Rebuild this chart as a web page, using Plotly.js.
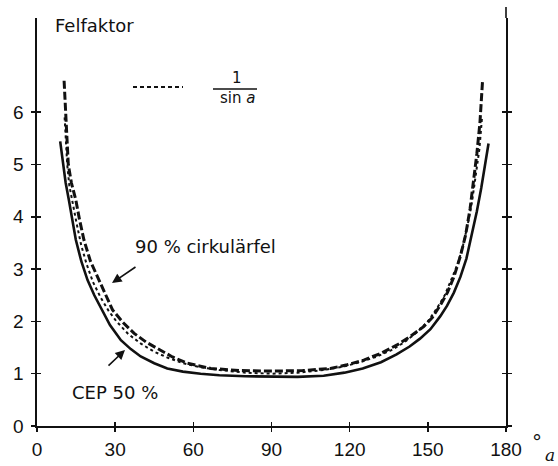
<!DOCTYPE html>
<html>
<head>
<meta charset="utf-8">
<script src="https://cdn.plot.ly/plotly-3.0.1.min.js"></script>
<style>html,body{margin:0;padding:0;background:#fff;}#chart{width:558px;height:466px;}</style>
</head>
<body>
<div id="chart"></div>
<script>
// ---- data ----
const xTicks = [0, 30, 60, 90, 120, 150, 180];
const yTicks = [0, 1, 2, 3, 4, 5, 6];

// CEP 50 % (solid)
const cepAngle = [8.9, 10, 11, 12.3, 13.5, 14.9, 17, 19.4, 22, 24.5, 28, 32.2, 36, 39.8, 45, 50, 56, 62.8, 70, 80, 90, 100, 110, 118, 125, 132, 138, 143, 147, 151, 154.8, 157.4, 160, 162.5, 164.8, 166.9, 168.8, 170.5, 172, 173.3];
const cepValue = [5.44, 5.0, 4.65, 4.3, 3.95, 3.56, 3.15, 2.79, 2.5, 2.25, 1.93, 1.64, 1.47, 1.33, 1.2, 1.10, 1.04, 1.0, 0.97, 0.95, 0.94, 0.94, 0.96, 1.02, 1.10, 1.22, 1.37, 1.52, 1.67, 1.85, 2.1, 2.3, 2.55, 2.85, 3.2, 3.65, 4.1, 4.55, 5.0, 5.4];

// 90 % cirkulärfel (dashed)
const circAngle = [10.4, 10.9, 11.4, 12, 13.2, 14.9, 16.3, 18, 20.5, 23.8, 26.5, 29, 33, 37.3, 42, 47.5, 52, 57.7, 66.7, 78, 90, 102, 112.6, 119, 125.4, 132, 138.2, 143.5, 148.4, 151.8, 154.8, 157.5, 160, 162.5, 164.5, 166.2, 167.6, 168.8, 170, 171];
const circValue = [6.6, 6.0, 5.5, 5.0, 4.65, 4.32, 3.95, 3.56, 3.15, 2.79, 2.5, 2.22, 1.98, 1.77, 1.6, 1.45, 1.32, 1.2, 1.10, 1.06, 1.05, 1.06, 1.10, 1.17, 1.26, 1.39, 1.55, 1.72, 1.90, 2.08, 2.31, 2.55, 2.85, 3.25, 3.65, 4.15, 4.70, 5.2, 5.8, 6.6];

// 1/sin a (dotted)
const invAngle = [10.6, 11, 11.6, 12.4, 13.7, 15.3, 17, 19, 21.5, 24.5, 27.5, 30.5, 35, 40, 45, 50, 56, 62, 70, 80, 90, 100, 110, 118, 124, 130, 136, 141, 146, 150, 153.5, 156.5, 159, 161.5, 163.5, 165.3, 167, 168.5, 169.8, 170.8];
const invValue = [5.9, 5.5, 5.0, 4.6, 4.25, 3.85, 3.45, 3.1, 2.75, 2.45, 2.2, 2.0, 1.76, 1.57, 1.42, 1.31, 1.2, 1.13, 1.07, 1.02, 1.0, 1.02, 1.07, 1.14, 1.22, 1.32, 1.45, 1.6, 1.8, 2.0, 2.25, 2.5, 2.8, 3.1, 3.45, 3.85, 4.3, 4.8, 5.3, 5.9];

// ---- layout geometry ----
const W = 558, H = 466;
const M = {l: 37, r: 52, t: 18, b: 40};
const PW = W - M.l - M.r, PH = H - M.t - M.b;
const px = x => (x - M.l) / PW;
const py = y => (H - M.b - y) / PH;

const textFont = {family: 'DejaVu Sans, sans-serif', size: 18, color: '#111'};
const tickFont = {family: 'Liberation Sans, Arial, sans-serif', size: 19, color: '#111'};

const traces = [
  {x: circAngle, y: circValue, mode: 'lines', line: {color: '#111', width: 3, dash: '8px,3px'}, showlegend: false, hoverinfo: 'skip'},
  {x: invAngle, y: invValue, mode: 'lines', line: {color: '#111', width: 2, dash: '3px,3px'}, showlegend: false, hoverinfo: 'skip'},
  {x: cepAngle, y: cepValue, mode: 'lines', line: {color: '#111', width: 2.6}, showlegend: false, hoverinfo: 'skip'},
  {x: [null], y: [null], xaxis: 'x2', yaxis: 'y2', mode: 'lines', showlegend: false, hoverinfo: 'skip'}
];

const axCommon = {showgrid: false, zeroline: false, linecolor: '#111', linewidth: 1.6, tickcolor: '#111', tickwidth: 1.6, ticklen: 4, fixedrange: true};

const layout = {
  width: W, height: H,
  margin: M,
  paper_bgcolor: '#fff', plot_bgcolor: '#fff',
  showlegend: false,
  xaxis: Object.assign({}, axCommon, {range: [0, 180], tickmode: 'array', tickvals: xTicks, ticktext: xTicks.map(String), ticks: 'outside', showline: true, tickfont: tickFont, ticklabelstandoff: 2}),
  yaxis: Object.assign({}, axCommon, {range: [0, 7.8], tickmode: 'array', tickvals: yTicks, ticktext: yTicks.map(String), ticks: 'outside', showline: true, mirror: 'allticks', tickfont: tickFont, ticklabelstandoff: 4}),
  xaxis2: Object.assign({}, axCommon, {range: [0, 180], overlaying: 'x', anchor: 'y2', tickmode: 'array', tickvals: xTicks, ticks: 'inside', showline: false, showticklabels: false}),
  yaxis2: Object.assign({}, axCommon, {range: [0, 7.8], overlaying: 'y', anchor: 'x2', tickmode: 'array', tickvals: yTicks, ticks: 'inside', mirror: 'allticks', showline: false, showticklabels: false}),
  shapes: [
    // right axis extends above plot
    {type: 'line', xref: 'paper', yref: 'paper', x0: 1, x1: 1, y0: 1, y1: py(7), line: {color: '#111', width: 1.6}},
    // legend sample for 1/sin a
    {type: 'line', xref: 'paper', yref: 'paper', x0: px(133), x1: px(183), y0: py(87), y1: py(87), line: {color: '#111', width: 2, dash: '4px,3px'}},
    // fraction bar
    {type: 'line', xref: 'paper', yref: 'paper', x0: px(213), x1: px(257), y0: py(89), y1: py(89), line: {color: '#111', width: 1.5}}
  ],
  annotations: [
    {xref: 'paper', yref: 'paper', x: px(53), y: py(25), xanchor: 'left', yanchor: 'middle', text: 'Felfaktor', showarrow: false, font: textFont},
    {xref: 'paper', yref: 'paper', x: px(237), y: py(78), xanchor: 'center', yanchor: 'middle', text: '1', showarrow: false, font: {family: 'DejaVu Sans, sans-serif', size: 15, color: '#111'}},
    {xref: 'paper', yref: 'paper', x: px(237), y: py(98), xanchor: 'center', yanchor: 'middle', text: 'sin <i>a</i>', showarrow: false, font: {family: 'DejaVu Sans, sans-serif', size: 15, color: '#111'}},
    {xref: 'paper', yref: 'paper', x: px(133), y: py(246), xanchor: 'left', yanchor: 'middle', text: '90 % cirkulärfel', showarrow: false, font: textFont},
    {xref: 'paper', yref: 'paper', x: px(112), y: py(283), text: '', showarrow: true, ax: 25, ay: -17, arrowhead: 2, arrowsize: 1.2, arrowwidth: 1.6, arrowcolor: '#111'},
    {xref: 'paper', yref: 'paper', x: px(70), y: py(392), xanchor: 'left', yanchor: 'middle', text: 'CEP 50 %', showarrow: false, font: textFont},
    {xref: 'paper', yref: 'paper', x: px(125), y: py(350), text: '', showarrow: true, ax: -18, ay: 17, arrowhead: 2, arrowsize: 1.2, arrowwidth: 1.6, arrowcolor: '#111'},
    {xref: 'paper', yref: 'paper', x: px(537), y: py(442), xanchor: 'center', yanchor: 'middle', text: '°', showarrow: false, font: {family: 'DejaVu Sans, sans-serif', size: 20, color: '#111'}},
    {xref: 'paper', yref: 'paper', x: px(550), y: py(455), xanchor: 'center', yanchor: 'middle', text: '<i>a</i>', showarrow: false, font: {family: 'DejaVu Serif, serif', size: 17, color: '#111'}}
  ]
};

Plotly.newPlot('chart', traces, layout, {displayModeBar: false, staticPlot: true});
</script>
</body>
</html>
